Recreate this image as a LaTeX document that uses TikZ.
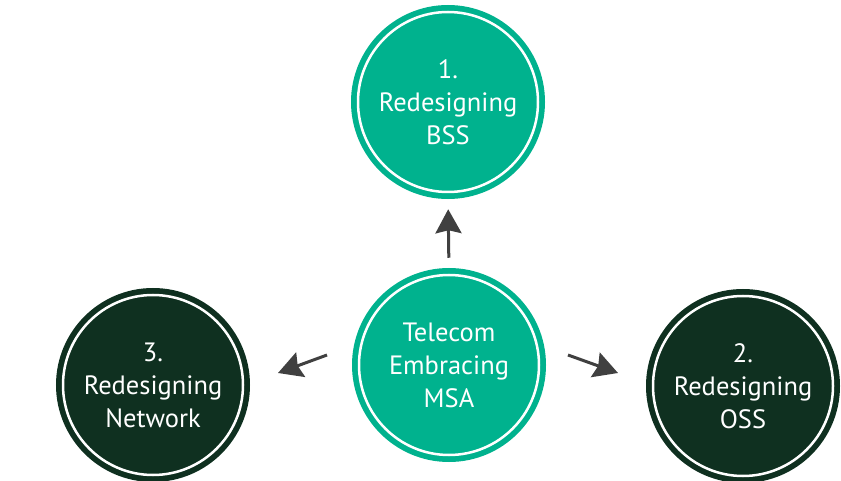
\documentclass[tikz,border=0pt]{standalone}
\usepackage{fontspec}
\setmainfont{PT Sans}
\usetikzlibrary{arrows.meta,calc}
\definecolor{teal1}{HTML}{00B28E}
\definecolor{dark1}{HTML}{0F3020}
\definecolor{arrowgray}{HTML}{404040}
\tikzset{
  bubble/.style={circle, minimum size=180pt, inner sep=0pt, draw=white, line width=2.5pt,
    fill=#1, preaction={draw=#1, line width=14pt}, text=white, align=center,
    font=\fontsize{26.5}{33}\selectfont},
  arr/.style={draw=arrowgray, line width=3pt, -{Stealth[length=24pt,width=26pt,inset=3pt]}}
}
\begin{document}
\begin{tikzpicture}[x=1pt,y=-1pt]
\useasboundingbox (0,0) rectangle (841,481);
\node[bubble=teal1] (t) at (448,102) {1.\\Redesigning\\BSS};
\node[bubble=teal1] (c) at (449,365) {Telecom\\Embracing\\MSA};
\node[bubble=dark1] (l) at (153,385) {3.\\Redesigning\\Network};
\node[bubble=dark1] (r) at (743,386) {2.\\Redesigning\\OSS};
\coordinate (ls) at (327,355);
\coordinate (le) at (278,373);
\coordinate (rs) at (568,355);
\coordinate (re) at (618,373);
\draw[arr, shorten <=16pt, shorten >=16pt] (c.north) -- (t.south);
\draw[arr] (ls) -- (le);
\draw[arr] (rs) -- (re);
\end{tikzpicture}
\end{document}
